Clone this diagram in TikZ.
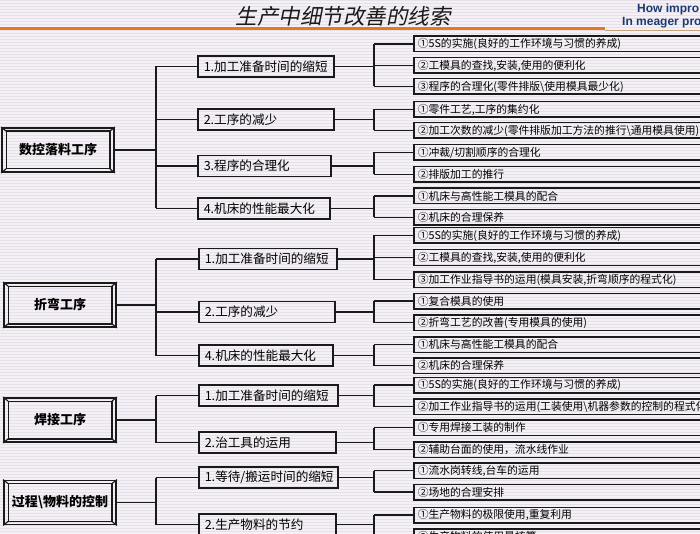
\documentclass[tikz,border=0pt]{standalone}
\usepackage{fontspec}
\setmainfont{Noto Sans CJK SC}
\newfontfamily\titlefont[FakeSlant=0.2]{Noto Sans CJK SC}
\newfontfamily\enfont{Liberation Sans}
\usetikzlibrary{calc}
\definecolor{bgbase}{HTML}{F5F0F5}
\definecolor{bgstripe}{HTML}{E6E1E9}
\definecolor{linec}{HTML}{1A1A1A}
\definecolor{orangec}{HTML}{E8781E}
\definecolor{thinc}{HTML}{C9A27E}
\definecolor{navyc}{HTML}{1C3A70}
\definecolor{titlec}{HTML}{1A1A1A}
\begin{document}
\begin{tikzpicture}[x=1pt,y=-1pt,
  l1/.style={draw=linec, line width=1.8pt, minimum width=112pt, minimum height=44pt, inner sep=0pt, font=\bfseries\fontsize{13}{15}\selectfont},
  l2/.style={draw=linec, line width=1.5pt, anchor=west, minimum height=21pt, inner xsep=6pt, inner ysep=0pt, align=left, font=\fontsize{12.6}{14}\selectfont},
  leaf/.style={draw=linec, line width=1.5pt, anchor=west, minimum height=15.5pt, inner xsep=4pt, inner ysep=0pt, text width=300pt, align=left, font=\fontsize{10.8}{12}\selectfont},
  conn/.style={draw=linec, line width=1.4pt},
  bevel/.style={draw=linec, line width=1.2pt}]
\useasboundingbox (0,0) rectangle (700,534);
\clip (0,0) rectangle (700,534);
% background
\fill[bgbase] (0,0) rectangle (700,534);
\foreach \yy in {0,3,...,534} \fill[bgstripe] (0,\yy) rectangle (700,\yy+1);
% header
\fill[orangec] (0,27.5) rectangle (605,30.5);
\draw[thinc, line width=0.8pt] (605,30) -- (700,30);
\node[font=\titlefont\fontsize{21.5}{24}\selectfont, text=titlec, inner sep=0pt] (title) at (343,16) {生产中细节改善的线索};
\node[anchor=west, font=\enfont\bfseries\fontsize{12}{13}\selectfont, text=navyc, inner sep=0pt] (en1) at (637,9) {How impro};
\node[anchor=west, font=\enfont\bfseries\fontsize{12}{13}\selectfont, text=navyc, inner sep=0pt] (en2) at (622,23) {In meager pro};

% level 1
\node[l1] (A) at (58,150) {数控落料工序};
\node[l1] (B) at (60,305) {折弯工序};
\node[l1] (C) at (60,420) {焊接工序};
\node[l1] (D) at (60,502.5) {过程\textbackslash 物料的控制};
\foreach \n in {A,B,C,D}{
  \draw[bevel] ([shift={(5,4)}]\n.north west) rectangle ([shift={(-5,-4)}]\n.south east);
  \draw[bevel] (\n.north west) -- ([shift={(5,4)}]\n.north west);
  \draw[bevel] (\n.north east) -- ([shift={(-5,4)}]\n.north east);
  \draw[bevel] (\n.south west) -- ([shift={(5,-4)}]\n.south west);
  \draw[bevel] (\n.south east) -- ([shift={(-5,-4)}]\n.south east);
}

% level 2
\node[l2, text width=124pt] (A1) at (197,66.5) {1.加工准备时间的缩短};
\node[l2, text width=124pt] (A2) at (197,119.5) {2.工序的减少};
\node[l2, text width=121pt] (A3) at (197,166) {3.程序的合理化};
\node[l2, text width=120pt] (A4) at (197,208.5) {4.机床的性能最大化};
\node[l2, text width=126pt] (B1) at (198,259) {1.加工准备时间的缩短};
\node[l2, text width=124pt] (B2) at (198,312) {2.工序的减少};
\node[l2, text width=122pt] (B4) at (198,355.5) {4.机床的性能最大化};
\node[l2, text width=127pt] (C1) at (198,395.5) {1.加工准备时间的缩短};
\node[l2, text width=125pt] (C2) at (198,442.5) {2.治工具的运用};
\node[l2, text width=127pt] (D1) at (198,477.5) {1.等待/搬运时间的缩短};
\node[l2, text width=125pt] (D2) at (198,524.5) {2.生产物料的节约};

% leaves
\node[leaf] (A1a) at (413,44) {①5S的实施(良好的工作环境与习惯的养成)};
\node[leaf] (A1b) at (413,65.5) {②工模具的查找,安装,使用的便利化};
\node[leaf] (A1c) at (413,86.5) {③程序的合理化(零件排版\textbackslash 使用模具最少化)};
\node[leaf] (A2a) at (413,109.5) {①零件工艺,工序的集约化};
\node[leaf] (A2b) at (413,130.5) {②加工次数的减少(零件排版加工方法的推行\textbackslash 通用模具使用)};
\node[leaf] (A3a) at (413,152.5) {①冲裁/切割顺序的合理化};
\node[leaf] (A3b) at (413,174.5) {②排版加工的推行};
\node[leaf] (A4a) at (413,196) {①机床与高性能工模具的配合};
\node[leaf] (A4b) at (413,217.5) {②机床的合理保养};
\node[leaf] (B1a) at (413,235.5) {①5S的实施(良好的工作环境与习惯的养成)};
\node[leaf] (B1b) at (413,257.5) {②工模具的查找,安装,使用的便利化};
\node[leaf] (B1c) at (413,279.5) {③加工作业指导书的运用(模具安装,折弯顺序的程式化)};
\node[leaf] (B2a) at (413,301) {①复合模具的使用};
\node[leaf] (B2b) at (413,322.5) {②折弯工艺的改善(专用模具的使用)};
\node[leaf] (B4a) at (413,344.5) {①机床与高性能工模具的配合};
\node[leaf] (B4b) at (413,365.5) {②机床的合理保养};
\node[leaf] (C1a) at (413,385) {①5S的实施(良好的工作环境与习惯的养成)};
\node[leaf] (C1b) at (413,406.5) {②加工作业指导书的运用(工装使用\textbackslash 机器参数的控制的程式化)};
\node[leaf] (C2a) at (413,427.5) {①专用焊接工装的制作};
\node[leaf] (C2b) at (413,449.5) {②辅助台面的使用，流水线作业};
\node[leaf] (D1a) at (413,470.5) {①流水岗转线,台车的运用};
\node[leaf] (D1b) at (413,492) {②场地的合理安排};
\node[leaf] (D2a) at (413,515) {①生产物料的极限使用,重复利用};
\node[leaf] (D2b) at (413,536.5) {②生产物料的使用量核算};

% connectors level1 -> level2
\coordinate (tj) at (156,0);
\foreach \p/\first/\last/\all in {A/A1/A4/{A1,A2,A3,A4}, B/B1/B4/{B1,B2,B4}, C/C1/C2/{C1,C2}, D/D1/D2/{D1,D2}}{
  \draw[conn] (\p.east) -- (\p.east -| tj);
  \draw[conn] (tj |- \first.west) -- (tj |- \last.west);
  \foreach \q in \all { \draw[conn] (tj |- \q.west) -- (\q.west); }
}
% connectors level2 -> leaves
\coordinate (jx) at (374,0);
\foreach \p/\first/\last/\all in {A1/A1a/A1c/{A1a,A1b,A1c}, A2/A2a/A2b/{A2a,A2b}, A3/A3a/A3b/{A3a,A3b}, A4/A4a/A4b/{A4a,A4b}, B1/B1a/B1c/{B1a,B1b,B1c}, B2/B2a/B2b/{B2a,B2b}, B4/B4a/B4b/{B4a,B4b}, C1/C1a/C1b/{C1a,C1b}, C2/C2a/C2b/{C2a,C2b}, D1/D1a/D1b/{D1a,D1b}, D2/D2a/D2b/{D2a,D2b}}{
  \draw[conn] (\p.east) -- (\p.east -| jx);
  \draw[conn] (jx |- \first.west) -- (jx |- \last.west);
  \foreach \q in \all { \draw[conn] (jx |- \q.west) -- (\q.west); }
}
\end{tikzpicture}
\end{document}
